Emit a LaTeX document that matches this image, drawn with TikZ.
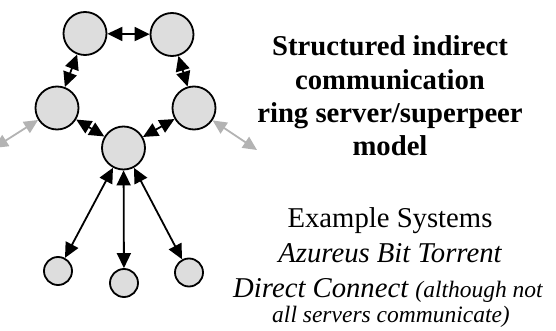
\documentclass[tikz,border=0pt]{standalone}
\usepackage{fontspec}
\setmainfont{Liberation Serif}
\usetikzlibrary{arrows.meta,positioning}

\definecolor{peerfill}{HTML}{DDDDDD}
\definecolor{linkgray}{HTML}{B3B3B3}

\begin{document}
\begin{tikzpicture}[
    x=1pt, y=-1pt,
    peer/.style={circle, draw, line width=1.8pt, fill=peerfill,
                 minimum size=#1, inner sep=0pt},
    peer/.default=43pt,
    link/.style={{Triangle[length=15pt,width=14pt]}-{Triangle[length=15pt,width=14pt]},
                 line width=1.8pt},
    outlink/.style={{Triangle[length=14pt,width=13pt]}-{Triangle[length=14pt,width=13pt]},
                    line width=1.8pt, color=linkgray},
    bigtxt/.style={font=\fontsize{28.7}{33.5}\selectfont, anchor=base, inner sep=0pt},
    smalltxt/.style={font=\fontsize{23}{26}\selectfont\itshape, anchor=base, inner sep=0pt},
  ]
  \useasboundingbox (0,0) rectangle (556,331);

  % ring of servers
  \node[peer] (tl) at (85,33.5) {};
  \node[peer] (tr) at (172,34.5) {};
  \node[peer] (lf) at (57,108) {};
  \node[peer] (rt) at (194,108) {};
  \node[peer] (hub) at (123.5,148) {};

  % clients
  \node[peer=28pt] (c1) at (58,271) {};
  \node[peer=28pt] (c2) at (124,283) {};
  \node[peer=28pt] (c3) at (189,272.5) {};

  \draw[link] (tl) -- (tr);
  \draw[link] (tl) -- (lf);
  \draw[link] (tr) -- (rt);
  \draw[link] (lf) -- (hub);
  \draw[link] (rt) -- (hub);
  \draw[link] (hub) -- (c1);
  \draw[link] (hub) -- (c2);
  \draw[link] (hub) -- (c3);

  % links leaving the picture
  \coordinate (outl) at (-6,148);
  \coordinate (outr) at (257,150);
  \draw[outlink] (lf) -- (outl);
  \draw[outlink] (rt) -- (outr);

  % caption
  \node[bigtxt, font=\fontsize{28.7}{33.5}\selectfont\bfseries] (t1) at (390,56) {Structured indirect};
  \node[bigtxt, font=\fontsize{28.7}{33.5}\selectfont\bfseries] (t2) at (390,90) {communication};
  \node[bigtxt, font=\fontsize{28.7}{33.5}\selectfont\bfseries] (t3) at (390,123) {ring server/superpeer};
  \node[bigtxt, font=\fontsize{28.7}{33.5}\selectfont\bfseries] (t4) at (390,156) {model};

  \node[bigtxt] (e1) at (390,227) {Example Systems};
  \node[bigtxt, font=\fontsize{28.7}{33.5}\selectfont\itshape] (e2) at (390,262) {Azureus Bit Torrent};
  \node[bigtxt] (e3) at (388,297) {\itshape Direct Connect {\fontsize{23.5}{26}\selectfont(although not}};
  \node[smalltxt, font=\fontsize{23.5}{26}\selectfont\itshape] (e4) at (391,322) {all servers communicate)};
\end{tikzpicture}
\end{document}
